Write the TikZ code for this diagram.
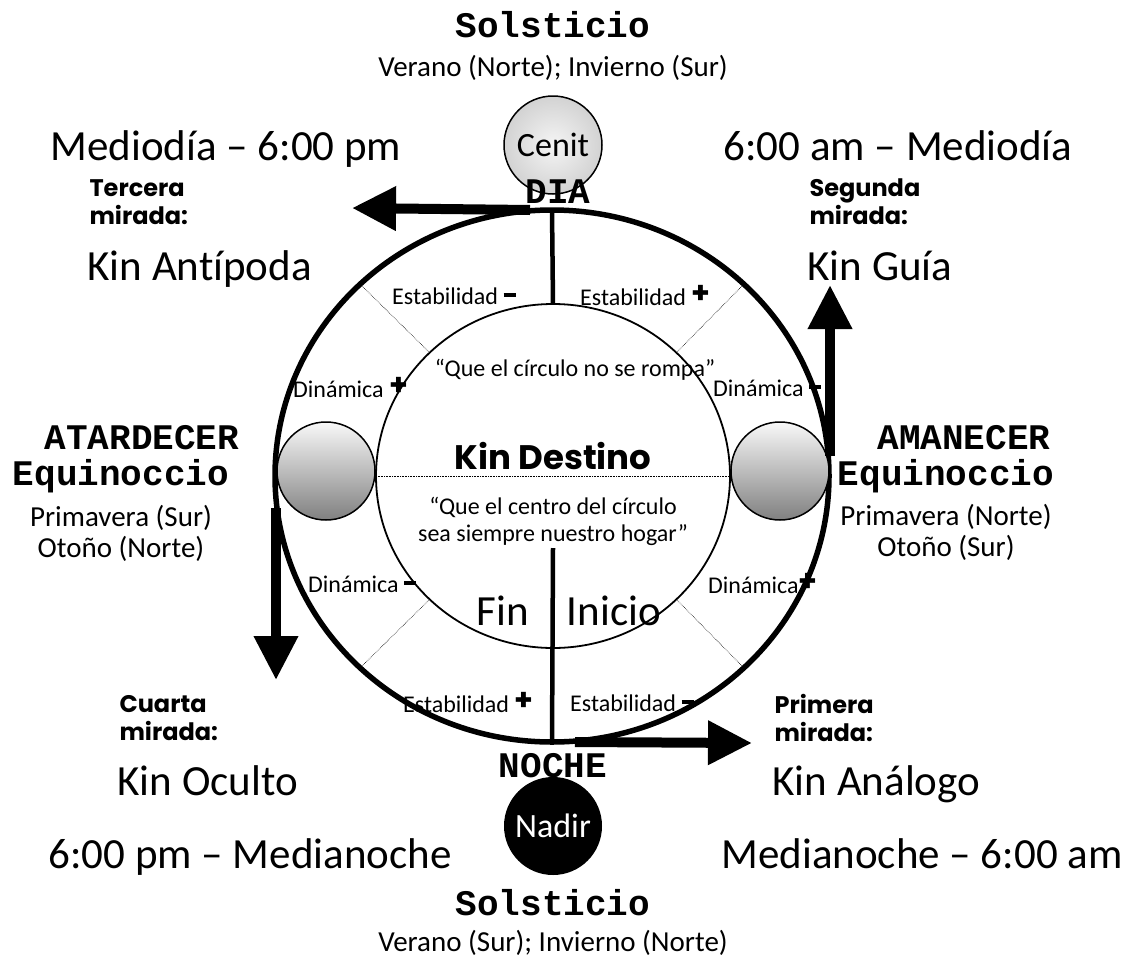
\documentclass[tikz,border=0pt]{standalone}
\usepackage{fontspec}
\setmainfont{Carlito}[Ligatures=NoCommon]
\newfontfamily\monofont{Liberation Mono}
\newfontfamily\heavyfont{Poppins}
\usetikzlibrary{
arrows.meta,
shapes.geometric,
positioning
}
\tikzset{>=latex}
\newcommand\plussign{\raisebox{2pt}{\heavyfont\bfseries\fontsize{30}{30}\selectfont+}}
\newcommand\minussign{\raisebox{7pt}{\rule{12pt}{4.5pt}}}

\begin{document}
\begin{tikzpicture}[x=1pt, y=-1pt, font=\fontsize{24}{27}\selectfont]
		\definecolor{sunlight}{RGB}{248,248,248}
		\definecolor{sunshade}{RGB}{128,128,128}
		\colorlet{cenitin}{gray!8}
		\colorlet{cenitout}{gray!35}
		\tikzset{big/.style={font=\fontsize{43}{46}\selectfont, anchor=base}}
		\tikzset{mid/.style={font=\fontsize{29}{31}\selectfont, align=center}}
		\tikzset{mono/.style={font=\monofont\bfseries\fontsize{36}{38}\selectfont}}
		\tikzset{look/.style={font=\heavyfont\bfseries\fontsize{24}{28}\selectfont, align=left, anchor=west}}
		\tikzset{tag/.style={anchor=west, inner sep=0pt}}
		\tikzset{sun/.style={circle, draw, line width=1.5pt, minimum size=98pt, inner sep=0pt, top color=sunlight, bottom color=sunshade}}
		\tikzset{sep/.style={densely dotted, line width=0.6pt}}
		\tikzset{fa/.style={line width=10pt, -{Triangle[length=44pt,width=42pt]}}}

		\useasboundingbox (0,0) rectangle (1129,961);

		% Outer ring and inner circle
		\node[ellipse, draw, line width=5.5pt, minimum width=554pt, minimum height=532pt, inner sep=0pt, outer sep=0pt] (ring) at (552,476) {};
		\node[ellipse, draw, line width=1.8pt, minimum width=354pt, minimum height=344pt, inner sep=0pt, outer sep=0pt] (core) at (553,476) {};

		% Dotted dividers
		\draw[sep] (core.45) -- (ring.45);
		\draw[sep] (core.135) -- (ring.135);
		\draw[sep] (core.225) -- (ring.225);
		\draw[sep] (core.315) -- (ring.315);
		\draw[sep] (core.west) -- (core.east);

		% Day and night axis
		\coordinate (stem) at (553,548);
		\draw[line width=4.5pt] (ring.north) -- (core.north);
		\draw[line width=4.5pt] (stem) -- (ring.south);

		% Suns
		\node[sun] (dusk) at (326,471) {};
		\node[sun] (dawn) at (780,471) {};
		\node[circle, draw, line width=1.5pt, minimum size=98pt, inner sep=0pt, inner color=cenitin, outer color=cenitout, font=\fontsize{34}{34}\selectfont] (cenit) at (553,145) {Cenit};
		\node[circle, fill=black, minimum size=98pt, inner sep=0pt, text=white, font=\fontsize{34}{34}\selectfont] (nadir) at (553,826) {Nadir};

		% Looks (arrows)
		\coordinate (tercera) at (352,208);
		\coordinate (segunda) at (830,285);
		\coordinate (cuarta) at (276,680);
		\coordinate (primera) at (752,743);
		\draw[fa] ([xshift=-22pt]ring.north) -- (tercera);
		\draw[fa] ([xshift=1pt,yshift=20pt]ring.east) -- (segunda);
		\draw[fa] ([xshift=1pt,yshift=-32pt]ring.west) -- (cuarta);
		\draw[fa] ([xshift=23pt]ring.south) -- (primera);

		% Top
		\node[mono] (solnorth) at (553,25) {Solsticio};
		\node[mid] (solnorthsub) at (553,68) {Verano (Norte); Invierno (Sur)};
		\node[big] (noonpm) at (226,160) {Mediodía – 6:00 pm};
		\node[big] (amnoon) at (898,160) {6:00 am – Mediodía};
		\node[mono] (dia) at (558,192) {DIA};
		\node[look] (tercerahd) at (86,202) {Tercera\\mirada:};
		\node[big, anchor=base west] (antipoda) at (84,280) {Kin Antípoda};
		\node[look] (segundahd) at (806,202) {Segunda\\mirada:};
		\node[big, anchor=base west] (guia) at (804,280) {Kin Guía};

		% Sides
		\node[mono] (atardecer) at (142,438) {ATARDECER};
		\node[mono] (eqwest) at (121,476) {Equinoccio};
		\node[mid] (eqwestsub) at (121,533) {Primavera (Sur)\\Otoño (Norte)};
		\node[mono] (amanecer) at (964,438) {AMANECER};
		\node[mono] (eqeast) at (946,476) {Equinoccio};
		\node[mid] (eqeastsub) at (946,532) {Primavera (Norte)\\Otoño (Sur)};

		% Bottom
		\node[look] (cuartahd) at (116,718) {Cuarta\\mirada:};
		\node[big, anchor=base west] (oculto) at (114,795) {Kin Oculto};
		\node[look] (primerahd) at (771,718) {Primera\\mirada:};
		\node[big, anchor=base west] (analogo) at (769,795) {Kin Análogo};
		\node[mono] (noche) at (553,766) {NOCHE};
		\node[big] (pmnight) at (250,868) {6:00 pm – Medianoche};
		\node[big] (nightam) at (922,868) {Medianoche – 6:00 am};
		\node[mono] (solsouth) at (553,903) {Solsticio};
		\node[mid] (solsouthsub) at (553,943) {Verano (Sur); Invierno (Norte)};

		% Inside the circle
		\node (quoteup) at (575,370) {“Que el círculo no se rompa”};
		\node[font=\heavyfont\bfseries\fontsize{34}{36}\selectfont] (destino) at (553,456) {Kin Destino};
		\node[align=center, font=\fontsize{24}{27}\selectfont] (quotedown) at (553,521) {“Que el centro del círculo\\sea siempre nuestro hogar”};
		\node[big] (fin) at (503,625) {Fin};
		\node[big] (inicio) at (614,625) {Inicio};

		% Ring labels
		\node[tag] (estnw) at (392,296) {Estabilidad \minussign};
		\node[tag] (estne) at (580,296) {Estabilidad \plussign};
		\node[tag] (dinw) at (293,388) {Dinámica \plussign};
		\node[tag] (dine) at (713,388) {Dinámica \minussign};
		\node[tag] (dinsw) at (308,584) {Dinámica \minussign};
		\node[tag] (dinse) at (708,584) {Dinámica\plussign};
		\node[tag] (estsw) at (403,703) {Estabilidad \plussign};
		\node[tag] (estse) at (570,703) {Estabilidad \minussign};
\end{tikzpicture}
\end{document}
